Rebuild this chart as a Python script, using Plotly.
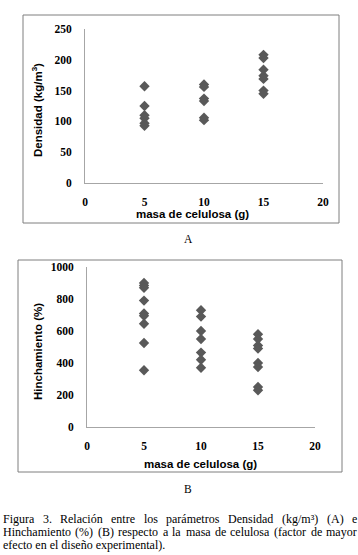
import plotly.graph_objects as go

W, H = 358, 555

# Data
mass_a = [5]*6 + [10]*6 + [15]*7
densidad = [157, 125, 110, 105, 97, 93,
            160, 156, 137, 133, 106, 102,
            208, 203, 184, 174, 169, 150, 145]

mass_b = [5]*9 + [10]*7 + [15]*8
hinchamiento = [900, 885, 870, 790, 710, 695, 645, 525, 355,
                730, 690, 600, 550, 465, 420, 370,
                580, 550, 510, 490, 400, 375, 250, 230]

x_ticks = [0, 5, 10, 15, 20]
y_ticks_a = [0, 50, 100, 150, 200, 250]
y_ticks_b = [0, 200, 400, 600, 800, 1000]

caption_lines = [
    "Figura 3. Relación entre los parámetros Densidad (kg/m³) (A) e",
    "Hinchamiento (%) (B) respecto a la masa de celulosa (factor de mayor",
    "efecto en el diseño experimental).",
]

def px(x):
    return x / W

def py(y):
    return 1 - y / H

# approximate Times-Roman advance widths (per 1000 em) for justification
TIMES = {' ': 250, 'a': 444, 'b': 500, 'c': 444, 'd': 500, 'e': 444, 'f': 333, 'g': 500,
         'h': 500, 'i': 278, 'j': 278, 'k': 500, 'l': 278, 'm': 778, 'n': 500, 'o': 500,
         'p': 500, 'q': 500, 'r': 333, 's': 389, 't': 278, 'u': 500, 'v': 500, 'w': 722,
         'x': 500, 'y': 500, 'z': 444, 'F': 556, 'H': 722, 'R': 667, 'D': 722, 'A': 722,
         'B': 667, '.': 250, '(': 333, ')': 333, '%': 833, '/': 278, '³': 300, 'ó': 500,
         'á': 444, 'ñ': 500, '3': 500}

def tw(s, size):
    return sum(TIMES.get(c, 500) for c in s) * size / 1000.0

MARK = dict(symbol="diamond", size=8, color="#595959")
TICKFONT = dict(family="Liberation Serif", size=11.5, color="#000000")
TITLEFONT = dict(family="Liberation Sans", size=11.5, color="#000000")
SERIF = dict(family="Liberation Serif", size=11.5, color="#000000")
CAPFONT = dict(family="Liberation Serif", size=12, color="#000000")

fig = go.Figure()
fig.add_trace(go.Scatter(x=mass_a, y=densidad, mode="markers", marker=MARK,
                         xaxis="x", yaxis="y", showlegend=False, cliponaxis=False))
fig.add_trace(go.Scatter(x=mass_b, y=hinchamiento, mode="markers", marker=MARK,
                         xaxis="x2", yaxis="y2", showlegend=False, cliponaxis=False))

ax_common = dict(showline=True, linecolor="#a6a6a6", linewidth=1, showgrid=False,
                 zeroline=False, ticks="", tickfont=TICKFONT, automargin=False,
                 fixedrange=True)

fig.update_layout(
    template="none",
    width=W, height=H, margin=dict(l=0, r=0, t=0, b=0, pad=0), autosize=False,
    paper_bgcolor="white", plot_bgcolor="white",
    xaxis=dict(domain=[px(85), px(323)], range=[0, 20], tickvals=x_ticks,
               ticktext=[f"<b>{v}</b>" for v in x_ticks], anchor="y",
               ticklabelstandoff=8, **ax_common),
    yaxis=dict(domain=[py(183), py(29)], range=[0, 250], tickvals=y_ticks_a,
               ticktext=[f"<b>{v}</b>" for v in y_ticks_a], anchor="x",
               ticklabelstandoff=10, **ax_common),
    xaxis2=dict(domain=[px(87), px(315)], range=[0, 20], tickvals=x_ticks,
                ticktext=[f"<b>{v}</b>" for v in x_ticks], anchor="y2",
                ticklabelstandoff=8, **ax_common),
    yaxis2=dict(domain=[py(427), py(267)], range=[0, 1000], tickvals=y_ticks_b,
                ticktext=[f"<b>{v}</b>" for v in y_ticks_b], anchor="x2",
                ticklabelstandoff=10, **ax_common),
)

# frames
for (x0, y0, x1, y1) in [(23, 15, 339, 223), (18, 260, 342, 472)]:
    fig.add_shape(type="rect", xref="paper", yref="paper",
                  x0=px(x0), x1=px(x1), y0=py(y1), y1=py(y0),
                  line=dict(color="#7f7f7f", width=1), fillcolor="rgba(0,0,0,0)")

ann = []
ann.append(dict(x=px(37), y=py(110), text="<b>Densidad (kg/m<sup>3</sup>)</b>", textangle=-90,
                font=TITLEFONT))
ann.append(dict(x=px(192), y=py(214), text="<b>masa de celulosa (g)</b>", font=TITLEFONT))
ann.append(dict(x=px(38), y=py(352), text="<b>Hinchamiento (%)</b>", textangle=-90,
                font=TITLEFONT))
ann.append(dict(x=px(200), y=py(464), text="<b>masa de celulosa (g)</b>", font=TITLEFONT))
ann.append(dict(x=px(188), y=py(239), text="A", font=SERIF))
ann.append(dict(x=px(188), y=py(489), text="B", font=SERIF))

# caption: justified lines (last line left-aligned)
left, right = 2.0, 356.0
for i, line in enumerate(caption_lines):
    yc = 519 + 13 * i
    words = line.split(" ")
    if i < len(caption_lines) - 1 and len(words) > 1:
        widths = [tw(w, CAPFONT["size"]) for w in words]
        gap = (right - left - sum(widths)) / (len(words) - 1)
        gap = max(gap, 0.8 * tw(" ", CAPFONT["size"]))
        x = left
        for w, wd in zip(words, widths):
            ann.append(dict(x=px(x), y=py(yc), text=w, xanchor="left", font=CAPFONT,
                            borderpad=0))
            x += wd + gap
    else:
        ann.append(dict(x=px(left), y=py(yc), text=line, xanchor="left", font=CAPFONT,
                        borderpad=0))

for a in ann:
    a.setdefault("xanchor", "center")
    a.update(xref="paper", yref="paper", yanchor="middle", showarrow=False)
    fig.add_annotation(**a)

fig.write_html("out.html", config={"displayModeBar": False},
               post_script="document.body.style.margin='0';document.body.style.padding='0';"
                           "document.documentElement.style.overflow='hidden';")
